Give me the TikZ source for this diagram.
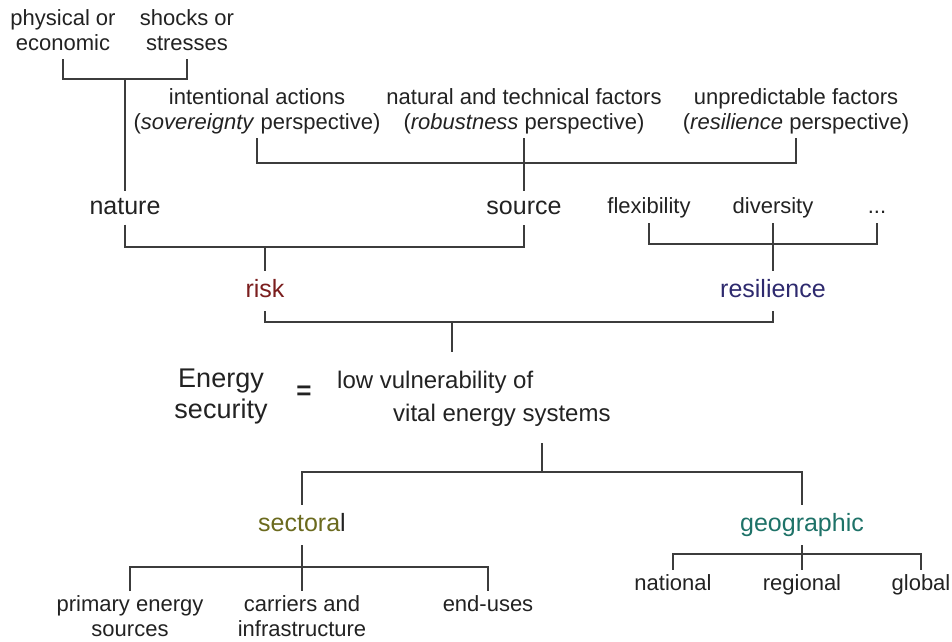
\documentclass[tikz,border=0pt]{standalone}
\usepackage{fontspec}
\setmainfont{Liberation Sans}
\usepackage{tikz}
\usepackage{xcolor}
\definecolor{ink}{HTML}{222222}
\definecolor{wire}{HTML}{3C3C3C}
\definecolor{riskc}{HTML}{7B1E1E}
\definecolor{resilc}{HTML}{2E2A6E}
\definecolor{sectorc}{HTML}{6B6A1E}
\definecolor{geoc}{HTML}{1E7268}
\tikzset{
  lbl/.style={font=\fontsize{22}{25}\selectfont, text=ink, inner sep=5pt,
              text height=15.8pt, text depth=4.4pt},
  pair/.style={font=\fontsize{22}{25}\selectfont, text=ink, inner sep=4pt,
              align=center, text depth=4.4pt},
  word/.style={font=\fontsize{25}{28}\selectfont, text=ink, inner sep=5pt,
              text height=18pt, text depth=5pt},
  head/.style={word, inner ysep=8.5pt},
  link/.style={draw=wire, line width=1.5pt},
}

\begin{document}
\begin{tikzpicture}[x=1pt,y=-1pt]
\useasboundingbox (0,0) rectangle (952,641);
\node[pair] (phys) at (63,32.5) {physical or\\economic};
\node[pair] (shock) at (187,32.5) {shocks or\\stresses};
\node[pair] (intent) at (257,111.5) {intentional actions\\(\textit{sovereignty} perspective)};
\node[pair] (natural) at (524,111.5) {natural and technical factors\\(\textit{robustness} perspective)};
\node[pair] (unpred) at (796,111.5) {unpredictable factors\\(\textit{resilience} perspective)};

\node[word] (nature) at (125,208) {nature};
\node[word] (source) at (524,208) {source};
\node[lbl] (flex) at (649,208) {flexibility};
\node[lbl] (divers) at (773,208) {diversity};
\node[lbl] (more) at (877,208) {...};

\node[head, text=riskc] (risk) at (265,291) {risk};
\node[head, text=resilc] (resil) at (773,291) {resilience};

\node[pair, font=\fontsize{27}{31}\selectfont] (energy) at (221,395.5) {Energy\\security};
\node[font=\fontsize{26}{26}\selectfont\bfseries, text=ink] (eq) at (304,393) {=};
\node[pair, font=\fontsize{24}{33}\selectfont, align=left, anchor=west] (vuln) at (333,398.5)
  {low vulnerability of\\\hspace*{56pt}vital energy systems};

\node[head, text=sectorc] (sector) at (302,525) {sectora\textcolor{ink}{l}};
\node[head, text=geoc] (geo) at (802,525) {geographic};

\node[pair] (primary) at (130,618) {primary energy\\sources};
\node[pair] (carriers) at (302,618) {carriers and\\infrastructure};
\node[lbl] (enduse) at (488,606) {end-uses};
\node[lbl] (national) at (673,585) {national};
\node[lbl] (regional) at (802,585) {regional};
\node[lbl] (global) at (921,585) {global};

% bracket joints
\coordinate (j1) at (125,79);
\coordinate (j2) at (524,163);
\coordinate (j3) at (265,247);
\coordinate (j4) at (773,244);
\coordinate (j5) at (452,322);
\coordinate (vtop) at (452,352);
\coordinate (vbot) at (542,443);
\coordinate (j6) at (542,472);
\coordinate (j7) at (302,567);
\coordinate (j8) at (802,554);

\draw[link] (phys.south) |- (j1) -| (shock.south);
\draw[link] (j1) -- (nature.north);
\draw[link] (intent.south) |- (j2) -| (unpred.south);
\draw[link] (natural.south) -- (source.north);
\draw[link] (nature.south) |- (j3) -| (source.south);
\draw[link] (j3) -- (risk.north);
\draw[link] (flex.south) |- (j4) -| (more.south);
\draw[link] (divers.south) -- (resil.north);
\draw[link] (risk.south) |- (j5) -| (resil.south);
\draw[link] (j5) -- (vtop);
\draw[link] (vbot) -- (j6);
\draw[link] (sector.north) |- (j6) -| (geo.north);
\draw[link] (primary.north) |- (j7) -| (enduse.north);
\draw[link] (sector.south) -- (carriers.north);
\draw[link] (national.north) |- (j8) -| (global.north);
\draw[link] (geo.south) -- (regional.north);
\end{tikzpicture}
\end{document}
